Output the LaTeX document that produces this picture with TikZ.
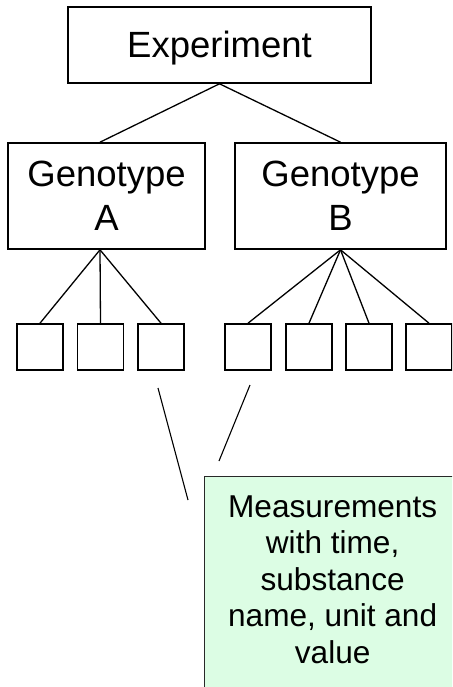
\documentclass[tikz,border=0pt]{standalone}
\usepackage{fontspec}
\setmainfont{Liberation Sans}
\definecolor{measgreen}{RGB}{220,253,228}
\definecolor{measedge}{RGB}{40,40,40}
\begin{document}
\begin{tikzpicture}[x=1pt,y=-1pt,
  box/.style={draw=black, line width=1.6pt, inner sep=0pt},
  bigtext/.style={font=\fontsize{36.5}{44}\selectfont, align=center},
  small/.style={box, minimum width=46pt, minimum height=46pt},
  link/.style={draw=black, line width=1.3pt},
  measbox/.style={draw=measedge, fill=measgreen, line width=1.3pt, inner sep=0pt,
    font=\fontsize{31.6}{36.5}\selectfont, align=center}]
\useasboundingbox (0,0) rectangle (452,687);
\clip (0,0) rectangle (452,687);
\fill[white] (0,0) rectangle (452,687);
% top
\node[box, bigtext, minimum width=303pt, minimum height=76pt, text height=26pt, text depth=0pt] (exp) at (219.5,45) {Experiment};
\node[box, bigtext, minimum width=197pt, minimum height=106pt] (gA) at (106.5,196) {Genotype\\A};
\node[box, bigtext, minimum width=211pt, minimum height=106pt] (gB) at (340.5,196) {Genotype\\B};
% small boxes
\node[small] (a1) at (40,347) {};
\node[small] (a2) at (100.5,347) {};
\node[small] (a3) at (161,347) {};
\node[small] (b1) at (248,347) {};
\node[small] (b2) at (309,347) {};
\node[small] (b3) at (369,347) {};
\node[small] (b4) at (429,347) {};
% measurement box
\node[measbox, anchor=north west, minimum width=256pt, minimum height=240pt, text depth=34.6pt] (meas) at (204,476)
  {Measurements\\with time,\\substance\\name, unit and\\value};
% connectors
\draw[link] (exp.south) -- ([xshift=-6.5pt]gA.north);
\draw[link] (exp.south) -- (gB.north);
\foreach \n in {a1,a2,a3} \draw[link] ([xshift=-6.5pt]gA.south) -- (\n.north);
\foreach \n in {b1,b2,b3,b4} \draw[link] (gB.south) -- (\n.north);
\coordinate (m1s) at (158,388);
\coordinate (m1e) at (188,500);
\coordinate (m2s) at (250,385);
\coordinate (m2e) at (219,461);
\draw[link, line width=1.1pt] (m1s) -- (m1e);
\draw[link, line width=1.1pt] (m2s) -- (m2e);
\end{tikzpicture}
\end{document}
